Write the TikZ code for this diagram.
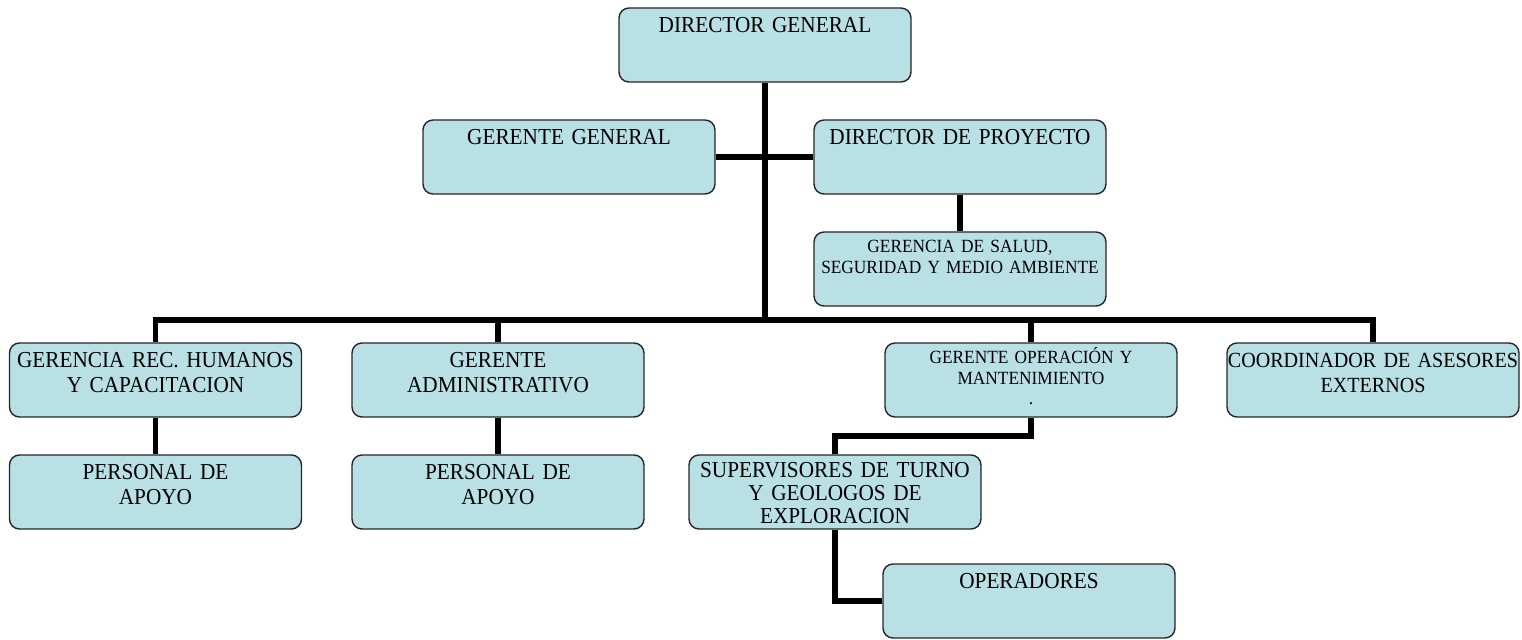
\documentclass[tikz,border=0pt]{standalone}
\usepackage{fontspec}
\setmainfont{Liberation Serif}[FakeStretch=0.93]
\usepackage{xcolor}
\definecolor{cajon}{RGB}{185,224,228}
\usepackage{tikz}
\usetikzlibrary{positioning,calc}

\begin{document}
\begin{tikzpicture}[font=\fontsize{13}{14.5}\selectfont, x=1cm, y=1cm]
\tikzset{post/.style={draw=black!85, line width=0.8pt, fill=cajon, rounded corners=0.2cm, inner sep=0pt, text width=5.84cm, align=center, text height=0.49cm, text depth=0.99cm},
  chico/.style={font=\fontsize{10.6}{11.4}\selectfont, text height=0.42cm, text depth=1.06cm},
  link/.style={line width=3.4pt}}
\useasboundingbox (0,0) rectangle (30.44,12.78);
\node[post] (dg)  at (15.30,11.88) {DIRECTOR GENERAL};
\node[post] (gg)  at (11.38,9.64)  {GERENTE GENERAL};
\node[post] (dp)  at (19.20,9.64)  {DIRECTOR DE PROYECTO};
\node[post, chico] (gs) at (19.20,7.40) {GERENCIA DE SALUD,\\SEGURIDAD Y MEDIO AMBIENTE};
\node[post] (grh) at (3.11,5.18)   {GERENCIA REC. HUMANOS\\Y CAPACITACION};
\node[post] (ga)  at (9.96,5.18)   {GERENTE\\ADMINISTRATIVO};
\node[post, chico] (go) at (20.62,5.18) {GERENTE OPERACIÓN Y\\MANTENIMIENTO\\.};
\node[post, font=\fontsize{12.3}{14.5}\selectfont] (co) at (27.46,5.18) {COORDINADOR DE ASESORES\\EXTERNOS};
\node[post] (pa1) at (3.11,2.94)   {PERSONAL DE\\APOYO};
\node[post] (pa2) at (9.96,2.94)   {PERSONAL DE\\APOYO};
\node[post, font=\fontsize{13}{13}\selectfont, text height=0.45cm, text depth=1.03cm] (sup) at (16.70,2.94) {SUPERVISORES DE TURNO\\Y GEOLOGOS DE\\EXPLORACION};
\node[post] (op)  at (20.58,0.76)  {OPERADORES};
\coordinate (jn)  at (15.30,6.38);
\coordinate (gok) at (20.62,4.06);
\coordinate (suk) at (16.70,4.06);
\draw[link] (dg.south) -- (jn);
\draw[link] (gg.east) -- (dp.west);
\draw[link] (dp.south) -- (gs.north);
\draw[link] (grh.north) |- (jn) -| (co.north);
\draw[link] (ga.north) -- (ga.north |- jn);
\draw[link] (go.north) -- (go.north |- jn);
\draw[link] (grh.south) -- (pa1.north);
\draw[link] (ga.south) -- (pa2.north);
\draw[link] (go.south) -- (gok) -- (suk) -- (sup.north);
\draw[link] (sup.south) |- (op.west);
\end{tikzpicture}
\end{document}
